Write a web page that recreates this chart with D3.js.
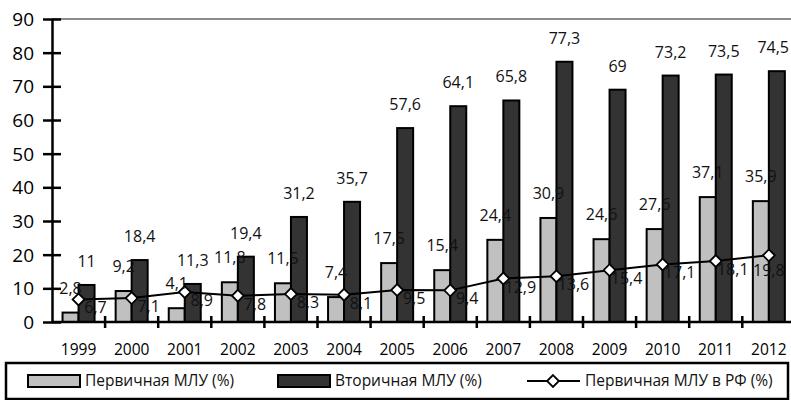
<!DOCTYPE html>
<html>
<head>
<meta charset="utf-8">
<script src="https://cdnjs.cloudflare.com/ajax/libs/d3/7.8.5/d3.min.js"></script>
<style>
  body { margin: 0; background: #fff; }
  svg { display: block; font-family: "Open Sans", "Noto Sans", sans-serif; }
</style>
</head>
<body>
<svg id="chart" width="791" height="400"></svg>
<script>
// данные
var years = ["1999","2000","2001","2002","2003","2004","2005","2006","2007","2008","2009","2010","2011","2012"];
var primary = [2.8, 9.2, 4.1, 11.8, 11.5, 7.4, 17.5, 15.4, 24.4, 30.9, 24.6, 27.6, 37.1, 35.9];
var secondary = [11, 18.4, 11.3, 19.4, 31.2, 35.7, 57.6, 64.1, 65.8, 77.3, 69, 73.2, 73.5, 74.5];
var primaryRF = [6.7, 7.1, 8.9, 7.8, 8.3, 8.1, 9.5, 9.4, 12.9, 13.6, 15.4, 17.1, 18.1, 19.8];
var yTicks = [0, 10, 20, 30, 40, 50, 60, 70, 80, 90];
var legendNames = ["Первичная МЛУ (%)", "Вторичная МЛУ (%)", "Первичная МЛУ в РФ (%)"];

var svg = d3.select("#chart");
var W = 791;
var plotLeft = 52, plotTop = 19, plotBottom = 322;
var band = 53.1;

var x = d3.scaleBand().domain(years).range([plotLeft, plotLeft + band * years.length]).padding(0);
var y = d3.scaleLinear().domain([0, 90]).range([plotBottom, plotTop]);
var barW = 16;

var fmt = function(v){ return String(v).replace(".", ","); };

// верхняя линия сетки
svg.append("line")
  .attr("x1", plotLeft).attr("x2", W)
  .attr("y1", y(90)).attr("y2", y(90))
  .attr("stroke", "#8c8c8c").attr("stroke-width", 2);

// столбцы
var g = svg.append("g");
years.forEach(function(yr, i){
  var cx = x(yr) + x.bandwidth() / 2;
  g.append("rect")
    .attr("x", cx - barW).attr("y", y(primary[i]))
    .attr("width", barW).attr("height", y(0) - y(primary[i]))
    .attr("fill", "#c0c0c0").attr("stroke", "#000").attr("stroke-width", 2);
  g.append("rect")
    .attr("x", cx).attr("y", y(secondary[i]))
    .attr("width", barW).attr("height", y(0) - y(secondary[i]))
    .attr("fill", "#333333").attr("stroke", "#000").attr("stroke-width", 2);
});

// оси
var yAxis = d3.axisLeft(y).tickValues(yTicks).tickSizeInner(9).tickSizeOuter(0).tickPadding(0);
var ya = svg.append("g").attr("transform", "translate(" + plotLeft + ",0)").call(yAxis);
ya.select(".domain").attr("stroke", "#000").attr("stroke-width", 2.5);
ya.selectAll(".tick line").attr("x1", -9).attr("x2", 9).attr("stroke", "#000").attr("stroke-width", 2.5);
ya.selectAll(".tick text").attr("x", -18).attr("dy", "0.35em")
  .attr("font-size", 19).attr("fill", "#000").attr("font-family", "Open Sans");

svg.append("line")
  .attr("x1", plotLeft).attr("x2", W)
  .attr("y1", y(0)).attr("y2", y(0))
  .attr("stroke", "#000").attr("stroke-width", 2.5);

years.forEach(function(yr){
  var tx = x(yr) + x.bandwidth();
  svg.append("line")
    .attr("x1", tx).attr("x2", tx)
    .attr("y1", y(0) - 6).attr("y2", y(0) + 6)
    .attr("stroke", "#000").attr("stroke-width", 2.5);
  svg.append("text")
    .attr("x", x(yr) + x.bandwidth() / 2).attr("y", 355)
    .attr("text-anchor", "middle").attr("font-size", 15.5).attr("fill", "#000")
    .text(yr);
});

// линия РФ
var line = d3.line()
  .x(function(d, i){ return x(years[i]) + x.bandwidth() / 2; })
  .y(function(d){ return y(d); });
svg.append("path").datum(primaryRF)
  .attr("d", line).attr("fill", "none").attr("stroke", "#000").attr("stroke-width", 2);

var diamond = d3.symbol().type(d3.symbolDiamond2).size(90);
primaryRF.forEach(function(v, i){
  svg.append("path")
    .attr("d", diamond)
    .attr("transform", "translate(" + (x(years[i]) + x.bandwidth() / 2) + "," + y(v) + ")")
    .attr("fill", "#fff").attr("stroke", "#000").attr("stroke-width", 1.8);
});

// подписи данных (не вылезают за правый край)
function label(px, py, txt){
  var t = svg.append("text")
    .attr("x", px).attr("y", py)
    .attr("text-anchor", "middle").attr("font-size", 16).attr("fill", "#111")
    .text(txt);
  var half = t.node().getComputedTextLength() / 2;
  if (px + half > W - 2) t.attr("x", W - 2 - half);
}

years.forEach(function(yr, i){
  var cx = x(yr) + x.bandwidth() / 2;
  label(cx - barW / 2, y(primary[i]) - 19, fmt(primary[i]));
  label(cx + barW / 2, y(secondary[i]) - 18, fmt(secondary[i]));
  var last = i == years.length - 1;
  label(cx + (last ? 0 : 17), y(primaryRF[i]) + (last ? 21 : 14), fmt(primaryRF[i]));
});

// легенда
svg.append("rect")
  .attr("x", 6).attr("y", 363).attr("width", 782).attr("height", 36)
  .attr("fill", "none").attr("stroke", "#000").attr("stroke-width", 2.5);

var ly = 381;
svg.append("rect").attr("x", 28).attr("y", ly - 6).attr("width", 52).attr("height", 12)
  .attr("fill", "#c0c0c0").attr("stroke", "#000").attr("stroke-width", 2);
svg.append("rect").attr("x", 278).attr("y", ly - 6).attr("width", 52).attr("height", 12)
  .attr("fill", "#333333").attr("stroke", "#000").attr("stroke-width", 2);
svg.append("line").attr("x1", 527).attr("x2", 580).attr("y1", ly).attr("y2", ly)
  .attr("stroke", "#000").attr("stroke-width", 2);
svg.append("path").attr("d", diamond).attr("transform", "translate(553," + ly + ")")
  .attr("fill", "#fff").attr("stroke", "#000").attr("stroke-width", 1.8);

[85, 335, 585].forEach(function(lx, i){
  svg.append("text")
    .attr("x", lx).attr("y", ly).attr("dy", "0.35em")
    .attr("font-size", 15.5).attr("fill", "#111")
    .text(legendNames[i]);
});
</script>
</body>
</html>
